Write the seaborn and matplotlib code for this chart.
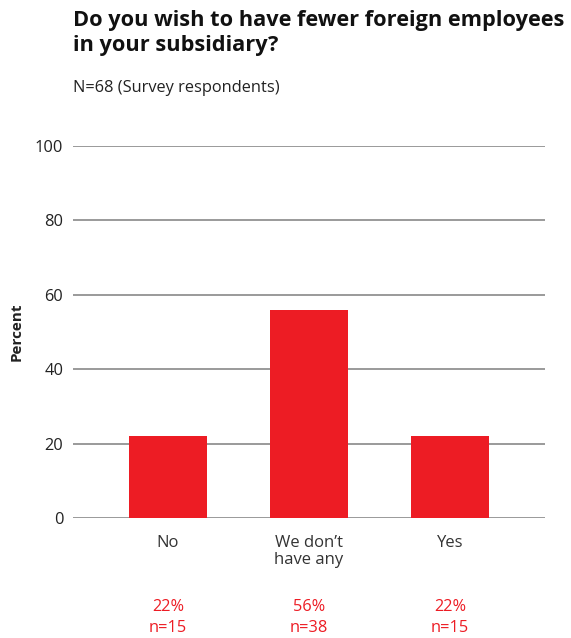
import matplotlib
matplotlib.use("Agg")
import matplotlib.pyplot as plt
import matplotlib.transforms as mtransforms
import seaborn as sns
import pandas as pd

categories = ["No", "We don\u2019t\nhave any", "Yes"]
percents = [22, 56, 22]
counts = [15, 38, 15]
yticks = [0, 20, 40, 60, 80, 100]

title = "Do you wish to have fewer foreign employees\nin your subsidiary?"
subtitle = "N=68 (Survey respondents)"

RED = "#ED1C24"
FONT = ["Open Sans", "DejaVu Sans"]

sns.set_theme(style="white")
plt.rcParams["font.family"] = FONT

df = pd.DataFrame({"category": categories, "percent": percents})

fig = plt.figure(figsize=(5.71, 6.38), dpi=100)
ax = fig.add_axes([0.1278, 0.1881, 0.8266, 0.5831])

sns.barplot(data=df, x="category", y="percent", color=RED, width=0.553,
            saturation=1, ax=ax, zorder=3, linewidth=0)

ax.set_ylim(0, 100)
ax.set_xlim(-0.674, 2.674)
ax.set_yticks(yticks)
ax.set_yticklabels([str(t) for t in yticks], fontsize=11.8, color="#222222")
ax.tick_params(axis="y", length=0, pad=7)
ax.tick_params(axis="x", length=0, pad=12, labelsize=12, labelcolor="#333333")
for lbl in ax.get_xticklabels():
    lbl.set_linespacing(1.15)
for t in yticks:
    ax.axhline(t, color="#9a9a9a", lw=1.4, zorder=1)
for s in ax.spines.values():
    s.set_visible(False)
ax.set_xlabel("")
ax.set_ylabel("Percent", fontsize=11, fontweight="bold", color="#222222", labelpad=8)

# value and count labels beneath each category
trans = mtransforms.blended_transform_factory(ax.transData, fig.transFigure)
for i, (p, n) in enumerate(zip(percents, counts)):
    ax.text(i, 1 - 607 / 638, f"{p}%", transform=trans, ha="center", va="center",
            color=RED, fontsize=11.8)
    ax.text(i, 1 - 628 / 638, f"n={n}", transform=trans, ha="center", va="center",
            color=RED, fontsize=11.8)

fig.text(73 / 571, 1 - 10 / 638, title, ha="left", va="top", fontsize=15.7,
         fontweight="bold", color="#111111", linespacing=1.28)
fig.text(73 / 571, 1 - 88 / 638, subtitle, ha="left", va="center", fontsize=11.8,
         color="#222222")

fig.savefig("out.png", dpi=100)
